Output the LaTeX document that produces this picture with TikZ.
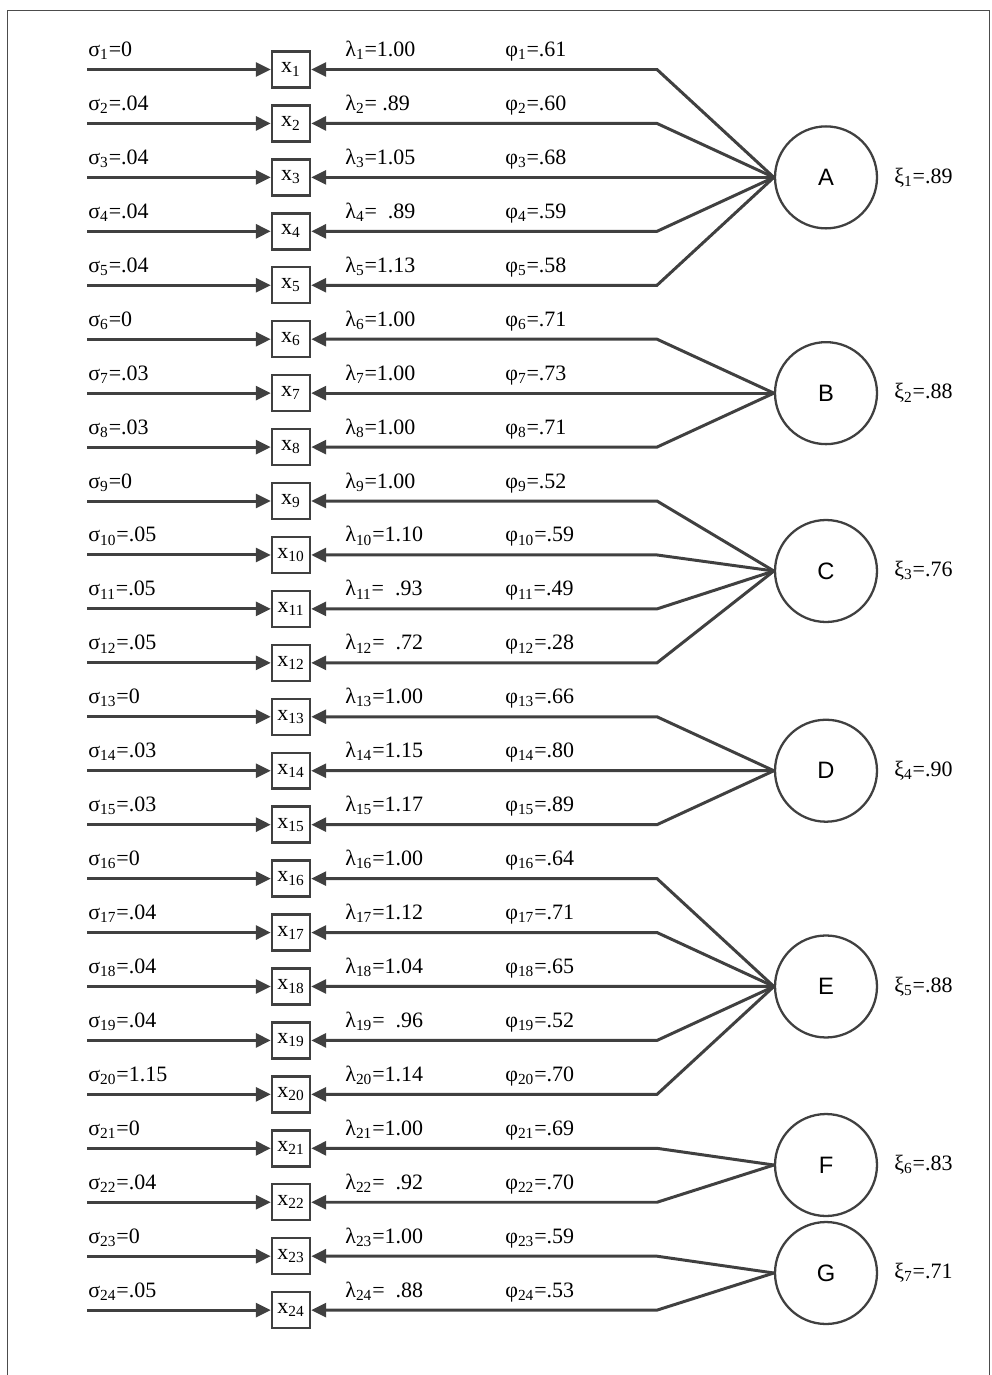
\documentclass[tikz,border=0pt]{standalone}
\usepackage{fontspec}
\setmainfont{Liberation Serif}
\newfontfamily\lvfont{Liberation Sans}
\usetikzlibrary{arrows.meta,positioning,calc}
\tikzset{obs/.style={draw=black!75,line width=1.4pt,fill=white,minimum width=7.6mm,minimum height=7.2mm,inner sep=0pt},
 lat/.style={draw=black!75,line width=1.3pt,circle,minimum size=20.4mm,inner sep=0pt,font=\lvfont\fontsize{13.5}{14}\selectfont},
 flow/.style={-{Triangle[length=3mm,width=2.8mm]},line width=1.7pt,draw=black!75},
 wire/.style={line width=1.7pt,draw=black!75},
 lbl/.style={anchor=base west,inner sep=0pt},txt/.style={font=\fontsize{12.5}{14}\selectfont}}

\begin{document}
\begin{tikzpicture}[x=0.02cm,y=-0.02cm,every node/.style={txt}]
\useasboundingbox (0,0) rectangle (991,1375);
\draw[black!70,line width=1pt] (7.5,1400)--(7.5,10.5)--(989.5,10.5)--(989.5,1400);
% factors
\foreach \f/\fy in {A/177.38,B/393.14,C/571,D/770.72,E/986.48,F/1165,G/1273}
 {\node[lat] (\f) at (826,\fy) {\f};}
\foreach \f/\xi/\v in {A/1/.89,B/2/.88,C/3/.76,D/4/.90,E/5/.88,F/6/.83,G/7/.71}
 {\node[anchor=west,inner sep=0pt] at ([xshift=9pt]\f.east) {ξ\textsubscript{\xi}=\v};}
% indicators
\foreach \i/\f/\s/\l/\p in {1/A/0/1.00/.61,2/A/.04/~.89/.60,3/A/.04/1.05/.68,4/A/.04/~~.89/.59,5/A/.04/1.13/.58,
 6/B/0/1.00/.71,7/B/.03/1.00/.73,8/B/.03/1.00/.71,
 9/C/0/1.00/.52,10/C/.05/1.10/.59,11/C/.05/~~.93/.49,12/C/.05/~~.72/.28,
 13/D/0/1.00/.66,14/D/.03/1.15/.80,15/D/.03/1.17/.89,
 16/E/0/1.00/.64,17/E/.04/1.12/.71,18/E/.04/1.04/.65,19/E/.04/~~.96/.52,20/E/1.15/1.14/.70,
 21/F/0/1.00/.69,22/F/.04/~~.92/.70,
 23/G/0/1.00/.59,24/G/.05/~~.88/.53}
{\pgfmathsetmacro\y{69.5+(\i-1)*53.94}
 \node[obs] (x\i) at (291,\y) {x\textsubscript{\i}};
 \coordinate (s\i) at (87,\y);\coordinate (b\i) at (657,\y);
 \draw[flow] (s\i)--(x\i.west);
 \draw[flow] (\f.west)--(b\i)--(x\i.east);
 \node[lbl] at (88,\y-13) {σ\textsubscript{\i}=\s};
 \node[lbl] at (345,\y-13) {λ\textsubscript{\i}=\l};
 \node[lbl] at (505,\y-13) {φ\textsubscript{\i}=\p};}
\end{tikzpicture}
\end{document}
